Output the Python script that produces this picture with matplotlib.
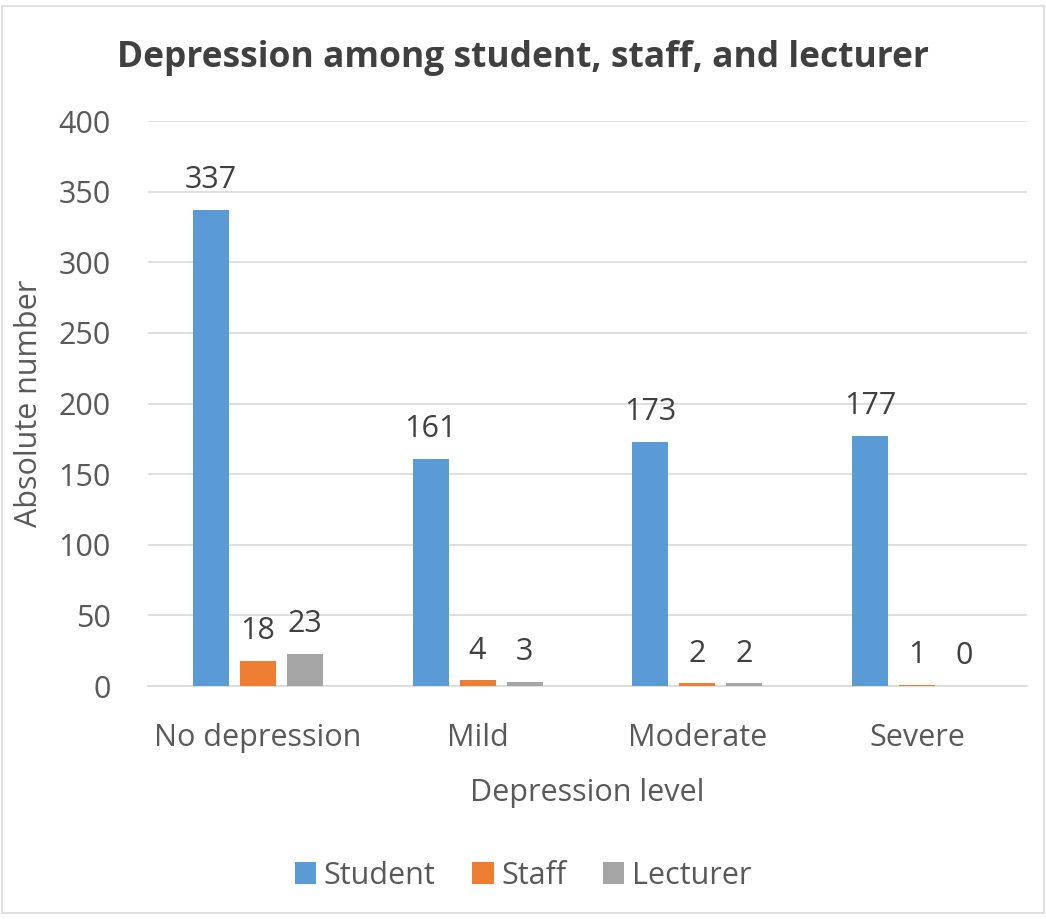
import matplotlib.pyplot as plt
import numpy as np
from matplotlib.patches import Rectangle

levels = ['No depression', 'Mild', 'Moderate', 'Severe']
student = [337, 161, 173, 177]
staff = [18, 4, 2, 1]
lecturer = [23, 3, 2, 0]
series_names = ['Student', 'Staff', 'Lecturer']
colors = ['#5B9BD5', '#ED7D31', '#A5A5A5']

plt.rcParams['font.family'] = ['Open Sans', 'DejaVu Sans']
txt = '#595959'
fs = 22

fig = plt.figure(figsize=(10.46, 9.19), dpi=100)
ax = fig.add_axes([0.1415, 0.2535, 0.8403, 0.6148])

x = np.arange(len(levels))
w = 0.164
step = 0.2136
for i, (vals, name, c) in enumerate(zip([student, staff, lecturer], series_names, colors)):
    pos = x + (i - 1) * step
    bars = ax.bar(pos, vals, w, color=c, label=name, zorder=3)
    for b, v in zip(bars, vals):
        ax.annotate(str(v), (b.get_x() + b.get_width() / 2, v), xytext=(0, 10.5),
                    textcoords='offset points', ha='center', va='bottom',
                    fontsize=fs, color='#404040')

ax.set_xlim(-0.5, 3.5)
ax.set_ylim(0, 400)
ax.set_yticks(range(0, 401, 50))
ax.yaxis.grid(True, color='#D9D9D9', linewidth=1.2, zorder=0)
ax.set_axisbelow(True)
for s in ['top', 'right', 'left']:
    ax.spines[s].set_visible(False)
ax.spines['bottom'].set_color('#D9D9D9')
ax.spines['bottom'].set_linewidth(1.2)
ax.tick_params(axis='both', length=0, labelsize=fs, colors=txt)
ax.tick_params(axis='x', pad=26.5)
ax.tick_params(axis='y', pad=27)
ax.set_xticks(x)
ax.set_xticklabels(levels)

ax.set_xlabel('Depression level', fontsize=fs, color=txt, labelpad=18)
ax.set_ylabel('Absolute number', fontsize=fs, color=txt)
ax.yaxis.set_label_coords(-0.118, 0.5)
fig.text(0.5, 0.937, 'Depression among student, staff, and lecturer', ha='center', va='center',
         fontsize=25.5, fontweight='bold', color='#404040')

fig.legend(loc='center', bbox_to_anchor=(0.5, 0.047), ncol=3, frameon=False,
           fontsize=fs, labelcolor=txt, handlelength=0.7, handleheight=0.7,
           columnspacing=1.2, handletextpad=0.25)

fig.patches.append(Rectangle((0.002, 0.006), 0.996, 0.988, transform=fig.transFigure,
                             fill=False, edgecolor='#D9D9D9', linewidth=1.2))

fig.savefig('out.png', dpi=100)
